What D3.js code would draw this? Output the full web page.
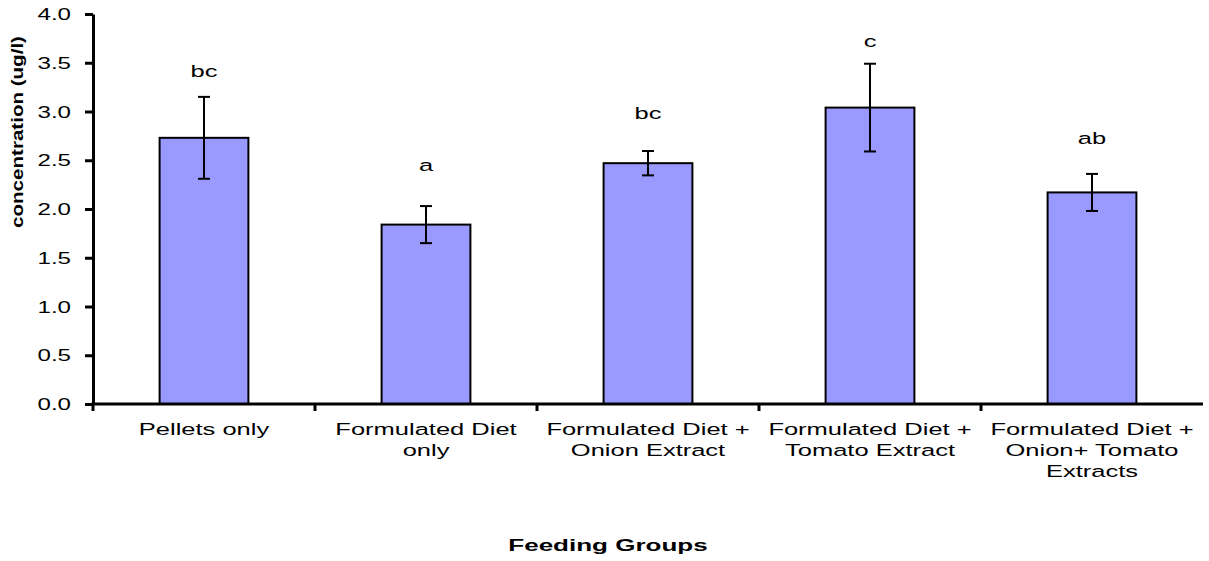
<!DOCTYPE html>
<html>
<head>
<meta charset="utf-8">
<script src="https://cdn.jsdelivr.net/npm/d3@7"></script>
<style>
  body { margin: 0; background: #fff; }
  text { font-family: "Liberation Sans", Arial, sans-serif; fill: #000; }
</style>
</head>
<body>
<svg id="chart" width="1209" height="561"></svg>
<script>
// Feeding groups (line breaks marked with \n)
const categories = [
  "Pellets only",
  "Formulated Diet\nonly",
  "Formulated Diet +\nOnion Extract",
  "Formulated Diet +\nTomato Extract",
  "Formulated Diet +\nOnion+ Tomato\nExtracts"
];
// Mean concentration (ug/l) and standard error per group
const means = [2.73, 1.84, 2.47, 3.04, 2.17];
const errors = [0.42, 0.19, 0.125, 0.45, 0.19];
// Significance letters and the value level at which each is written
const letters = ["bc", "a", "bc", "c", "ab"];
const letterLevels = [3.35, 2.39, 2.92, 3.66, 2.67];
// Y axis ticks
const yTicks = [0, 0.5, 1.0, 1.5, 2.0, 2.5, 3.0, 3.5, 4.0];

const svg = d3.select("#chart");
const plot = { left: 93, right: 1203, top: 14, bottom: 404 };

const x = d3.scaleBand()
  .domain(categories)
  .range([plot.left, plot.right])
  .paddingInner(0.6)
  .paddingOuter(0.3);

const y = d3.scaleLinear()
  .domain([0, 4])
  .range([plot.bottom, plot.top]);

// Helper: place a text at (px, py) with a horizontal stretch
function stretchedText(parent, px, py, str, opts) {
  const g = parent.append("g")
    .attr("transform", `translate(${px},${py}) scale(${opts.sx},1)`);
  return g.append("text")
    .attr("text-anchor", opts.anchor || "middle")
    .style("font-size", (opts.size || 17) + "px")
    .style("font-weight", opts.weight || "normal")
    .text(str);
}

// Bars
svg.append("g").selectAll("rect")
  .data(means)
  .join("rect")
  .attr("x", (d, i) => x(categories[i]))
  .attr("y", d => y(d))
  .attr("width", x.bandwidth())
  .attr("height", d => y(0) - y(d))
  .attr("fill", "#9999FF")
  .attr("stroke", "#000")
  .attr("stroke-width", 2);

// Error bars
const capHalf = 6;
const eb = svg.append("g").attr("stroke", "#000").attr("stroke-width", 2);
means.forEach((m, i) => {
  const cx = x(categories[i]) + x.bandwidth() / 2;
  const hi = y(m + errors[i]), lo = y(m - errors[i]);
  eb.append("line").attr("x1", cx).attr("x2", cx).attr("y1", hi).attr("y2", lo);
  eb.append("line").attr("x1", cx - capHalf).attr("x2", cx + capHalf).attr("y1", hi).attr("y2", hi);
  eb.append("line").attr("x1", cx - capHalf).attr("x2", cx + capHalf).attr("y1", lo).attr("y2", lo);
});

// Significance letters
letters.forEach((t, i) => {
  const cx = x(categories[i]) + x.bandwidth() / 2;
  stretchedText(svg, cx, y(letterLevels[i]), t, { size: 17, sx: 1.5 });
});

// Y axis
const yAxis = svg.append("g")
  .attr("transform", `translate(${plot.left},0)`)
  .call(d3.axisLeft(y).tickValues(yTicks).tickSize(8).tickSizeOuter(0).tickFormat(d3.format(".1f")));
yAxis.select(".domain").attr("stroke", "#000").attr("stroke-width", 3);
yAxis.selectAll(".tick line").attr("stroke", "#000").attr("stroke-width", 3);
yAxis.selectAll(".tick text").remove();
yTicks.forEach(v => {
  stretchedText(svg, plot.left - 22, y(v) + 6, d3.format(".1f")(v), { size: 17, anchor: "end", sx: 1.42 });
});

// X axis line and group boundary ticks
const xAxis = svg.append("g")
  .attr("transform", `translate(0,${plot.bottom})`)
  .call(d3.axisBottom(x).tickSize(0).tickSizeOuter(0).tickFormat(""));
xAxis.select(".domain").attr("stroke", "#000").attr("stroke-width", 3)
  .attr("d", `M${plot.left - 1.5},0H${plot.right}`);
const step = x.step();
categories.forEach(c => {
  const bx = x(c) + x.bandwidth() / 2 - step / 2;
  xAxis.append("line").attr("x1", bx).attr("x2", bx).attr("y1", 0).attr("y2", 7)
    .attr("stroke", "#000").attr("stroke-width", 3);
});

// Category labels
categories.forEach(c => {
  const cx = x(c) + x.bandwidth() / 2;
  c.split("\n").forEach((line, j) => {
    stretchedText(svg, cx, plot.bottom + 31 + j * 21, line, { size: 17, sx: 1.5 });
  });
});

// Axis titles
stretchedText(svg, 608, 551, "Feeding Groups", { size: 17, weight: "bold", sx: 1.53 });

const yt = svg.append("g").attr("transform", "translate(23,132) rotate(-90)");
const ytText = yt.append("text")
  .attr("text-anchor", "middle")
  .style("font-size", "17px")
  .style("font-weight", "bold")
  .text("concentration (ug/l)");
const natural = ytText.node().getComputedTextLength();
ytText.attr("transform", `scale(${192 / natural},1)`);
</script>
</body>
</html>
